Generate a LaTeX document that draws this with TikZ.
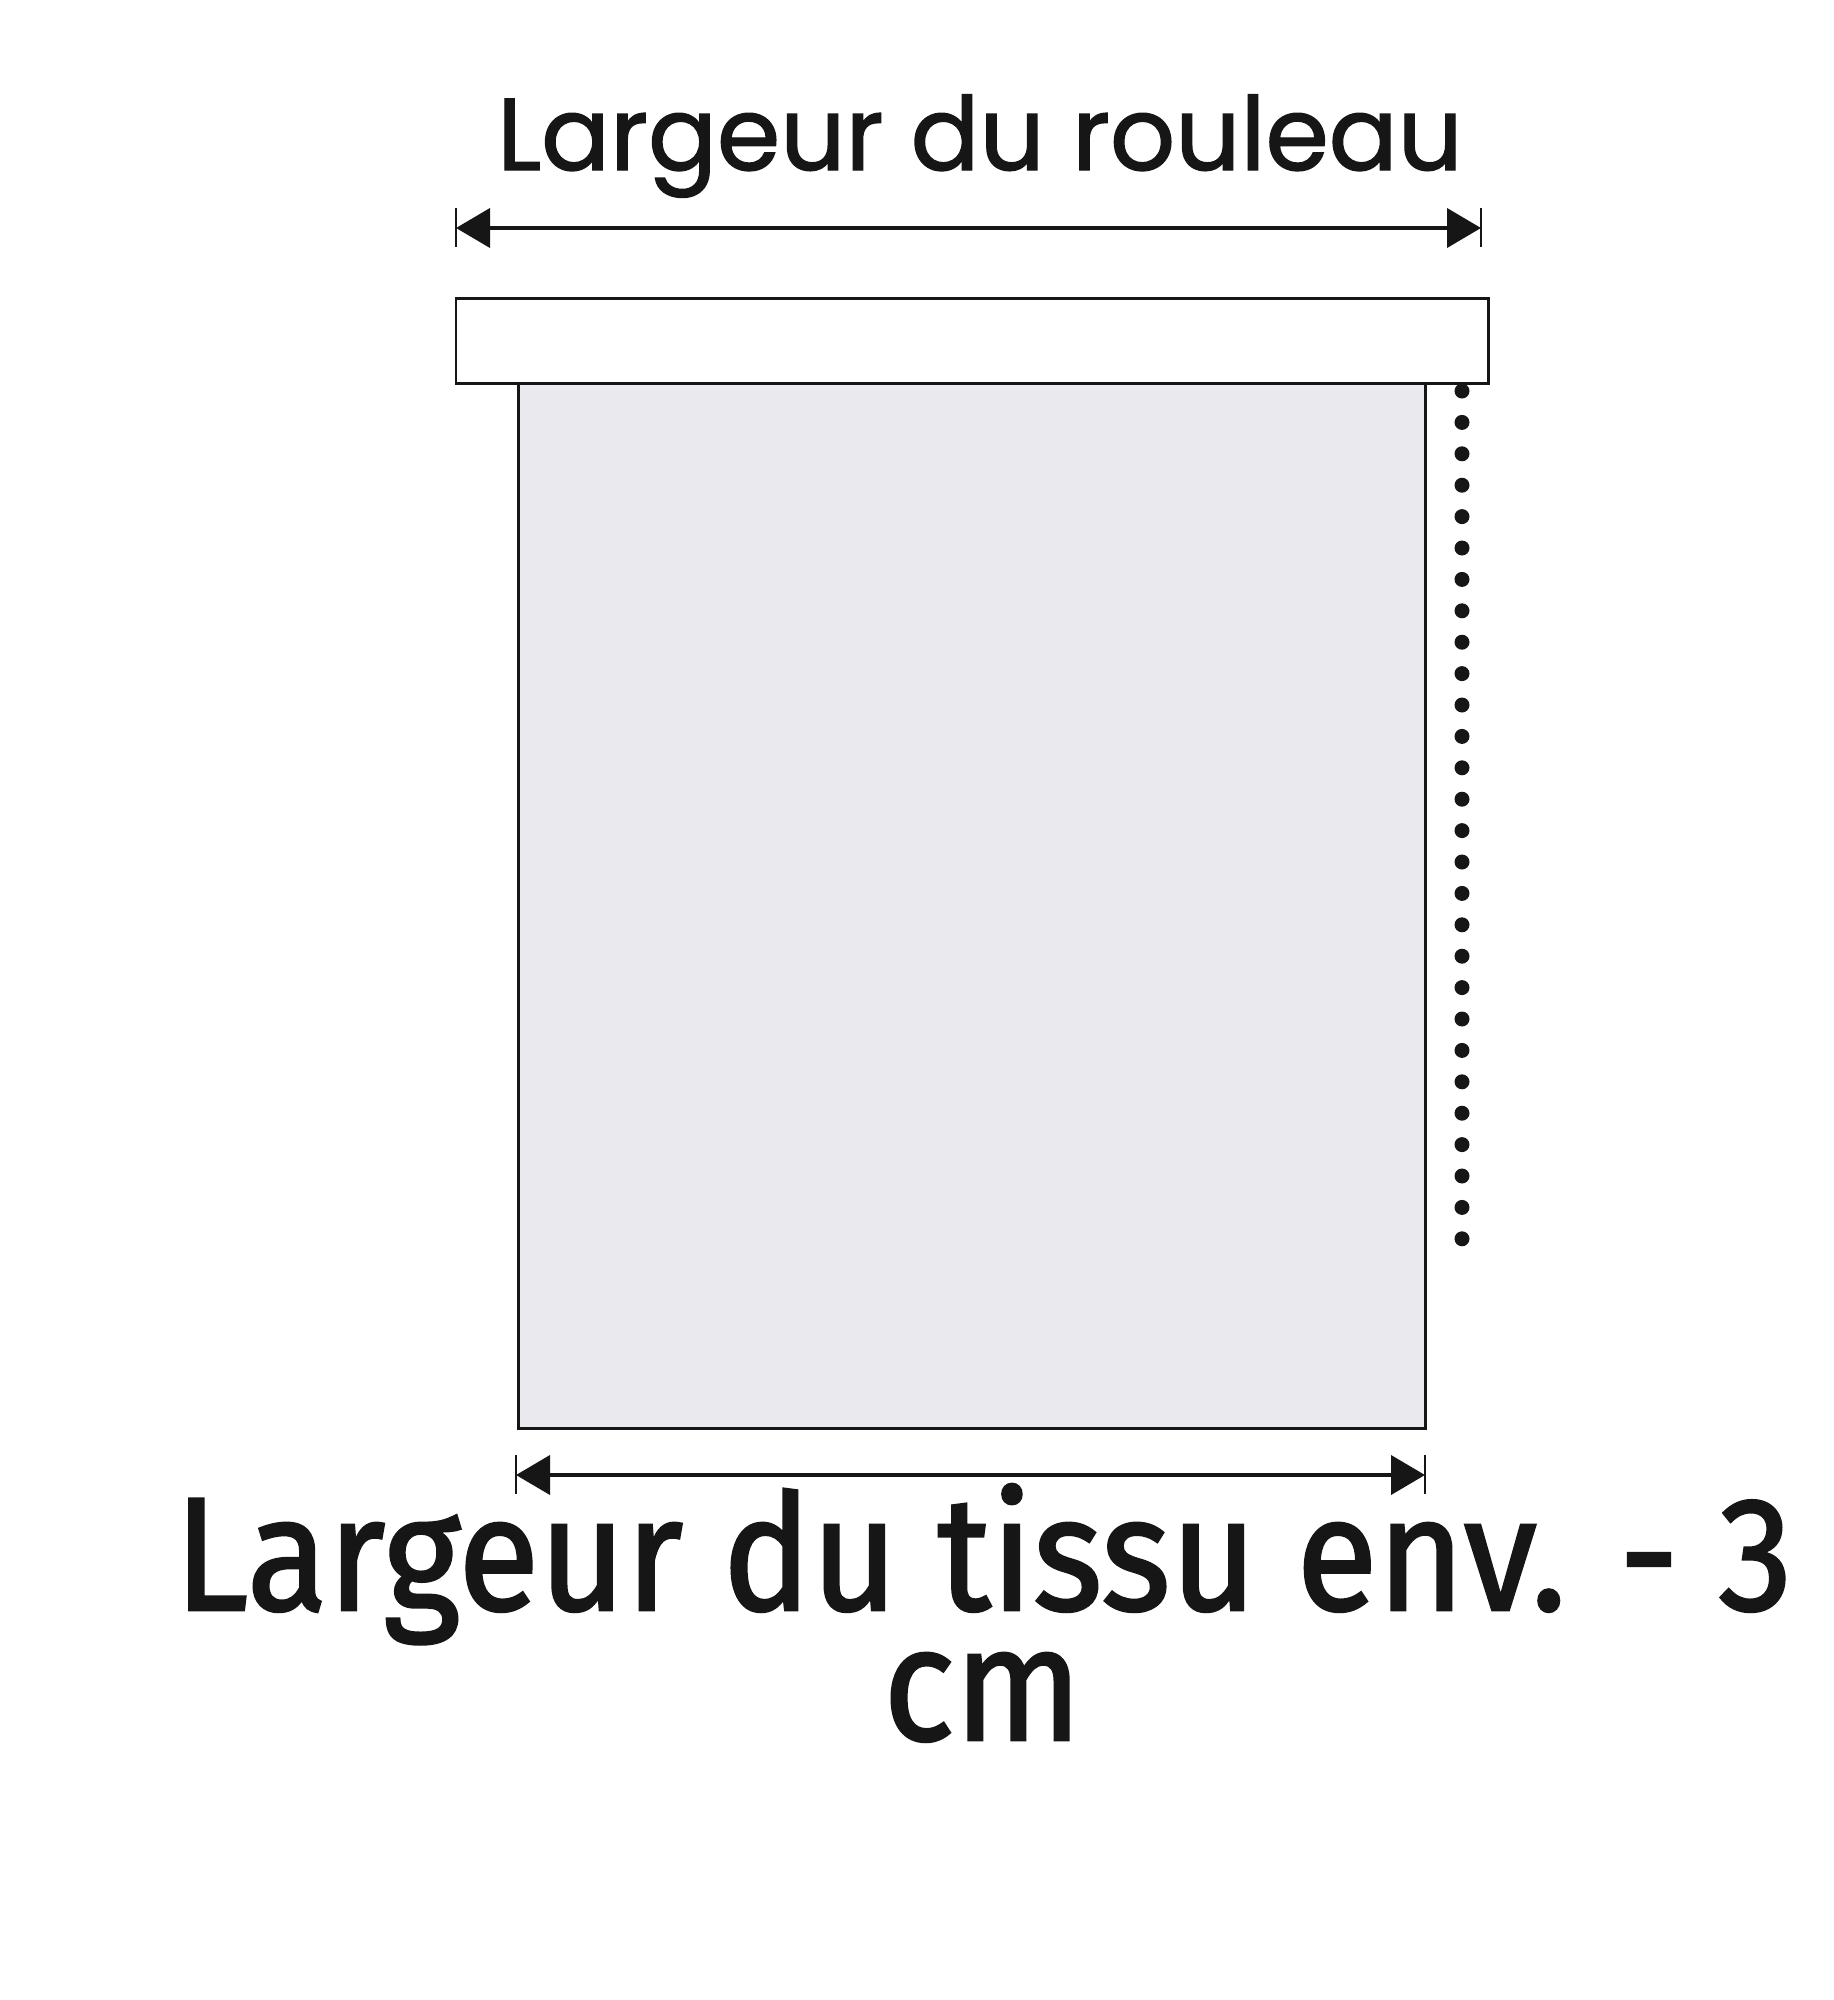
\documentclass[tikz,border=0pt]{standalone}
\usepackage{fontspec}
\usepackage{graphicx}
\usepackage{tikz}
\usetikzlibrary{arrows.meta, positioning}
\usepackage{xcolor}
\newfontfamily\rollfont[FakeBold=1.4]{Poppins}
\newfontfamily\tissufont[FakeBold=1.6]{Fira Sans}
\definecolor{fabricgray}{RGB}{234,234,238}
\definecolor{inkblack}{RGB}{22,22,22}

\begin{document}
\begin{tikzpicture}[line join=miter]
  \tikzstyle{every node}=[inner sep=0pt, outer sep=0pt]
  \tikzstyle{frame}=[draw=inkblack, line width=0.85pt]
  \tikzstyle{dimline}=[draw=inkblack, line width=1.15pt, {Triangle[length=0.34cm,width=0.39cm]}-{Triangle[length=0.34cm,width=0.39cm]}]
  \tikzstyle{tick}=[draw=inkblack, line width=0.7pt]
  \tikzstyle{toptext}=[text=inkblack, font=\rollfont\fontsize{29}{34}\selectfont]
  \tikzstyle{bottomtext}=[text=inkblack, font=\tissufont\fontsize{46}{37}\selectfont]

  \fill[white] (0,0) rectangle (18.34,-20);
  \useasboundingbox (0,0) rectangle (18.34,-20);

  \node[frame, minimum width=10.32cm, minimum height=0.85cm] (roller) at (9.72,-3.405) {};
  \node[frame, fill=fabricgray, minimum width=9.07cm, minimum height=10.45cm,
        below=0pt of roller] (fabric) {};

  \coordinate (rollL) at (4.56,-2.28);
  \coordinate (rollR) at (14.81,-2.28);
  \coordinate (fabL) at (5.16,-14.75);
  \coordinate (fabR) at (14.25,-14.75);

  \draw[dimline] (rollL) -- (rollR);
  \draw[dimline] (fabL) -- (fabR);
  \foreach \c in {rollL, rollR, fabL, fabR}
    \draw[tick] ([yshift=0.2cm]\c) -- ([yshift=-0.19cm]\c);

  \foreach \i in {0,...,27}
    \fill[inkblack] (14.62,-3.91-\i*0.314) circle (0.075);

  \node[toptext, anchor=base] (labroll) at (9.80,-1.70) {Largeur du rouleau};
  \node[bottomtext, anchor=base] (labtissu) at (9.835,-16.10)
    {\scalebox{0.92}[1]{Largeur du tissu env. - 3}};
  \node[bottomtext, anchor=base] (labcm) at (9.825,-17.40)
    {\scalebox{0.92}[1]{cm}};
\end{tikzpicture}
\end{document}
